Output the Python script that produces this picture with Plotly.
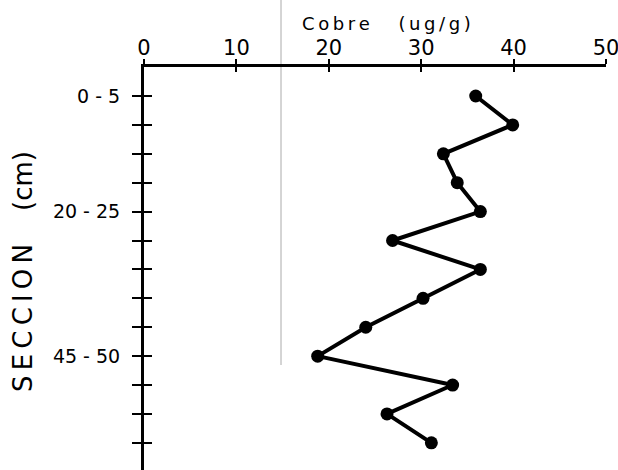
import plotly.graph_objects as go

# Data
section_top = [0, 5, 10, 15, 20, 25, 30, 35, 40, 45, 50, 55, 60]
section_labels = ["0 - 5", "", "", "", "20 - 25", "", "", "", "", "45 - 50", "", "", ""]
cobre = [35.9, 39.9, 32.4, 33.9, 36.4, 26.9, 36.4, 30.2, 24.0, 18.8, 33.4, 26.3, 31.1]
x_ticks = [0, 10, 20, 30, 40, 50]
x_ticktext = ["0", "10", "20", "30", "40", "50"]

depth_mid = [s + 2.5 for s in section_top]

FONT = "DejaVu Sans"
TS = "\u2009"  # thin space for letter spacing

fig = go.Figure()
fig.add_trace(go.Scatter(
    x=cobre, y=depth_mid, mode="lines+markers",
    line=dict(color="black", width=4),
    marker=dict(color="black", size=13),
    showlegend=False, hoverinfo="skip",
))
# invisible companion trace so the overlay axes (inner half of the crossing ticks) exist
fig.add_trace(go.Scatter(
    x=cobre, y=depth_mid, mode="markers", xaxis="x2", yaxis="y2",
    marker=dict(opacity=0), showlegend=False, hoverinfo="skip",
))

yrange = [67.2, -2.52]
xrange_ = [0, 50]

x_title = TS.join("Cobre") + "     " + TS.join("(ug/g)")
y_title = TS.join("SECCION") + "    " + "(cm)"

fig.update_layout(
    width=618, height=470,
    margin=dict(l=144, r=12, t=67, b=0),
    paper_bgcolor="white", plot_bgcolor="white",
    font=dict(family=FONT, color="black"),
    xaxis=dict(
        side="top", range=xrange_, tickmode="array", tickvals=x_ticks, ticktext=x_ticktext,
        ticks="outside", ticklen=5, tickwidth=2, tickcolor="black",
        showline=True, linewidth=3, linecolor="black",
        showgrid=False, zeroline=False, tickfont=dict(size=21, family=FONT),
        ticklabelstandoff=-4, ticklabeloverflow="allow",
    ),
    xaxis2=dict(
        overlaying="x", side="top", anchor="y2", range=xrange_, tickmode="array", tickvals=x_ticks,
        ticks="inside", ticklen=5, tickwidth=2, tickcolor="black",
        showticklabels=False, showline=False, showgrid=False, zeroline=False,
    ),
    yaxis=dict(
        range=yrange, tickmode="array", tickvals=depth_mid, ticktext=section_labels,
        ticks="outside", ticklen=9, tickwidth=2, tickcolor="black",
        showline=True, linewidth=3, linecolor="black",
        showgrid=False, zeroline=False, tickfont=dict(size=19, family=FONT),
        ticklabelstandoff=8, ticklabeloverflow="allow",
    ),
    yaxis2=dict(
        overlaying="y", side="left", anchor="x2", range=yrange, tickmode="array", tickvals=depth_mid,
        ticks="inside", ticklen=8, tickwidth=2, tickcolor="black",
        showticklabels=False, showline=False, showgrid=False, zeroline=False,
    ),
    annotations=[
        dict(text=x_title, xref="paper", yref="paper",
             x=(386 - 144) / 462, y=1 + (67 - 23) / 403, xanchor="center", yanchor="middle",
             showarrow=False, font=dict(size=18, family=FONT)),
        dict(text=y_title, xref="paper", yref="paper",
             x=(23 - 144) / 462, y=1 - (272 - 67) / 403, xanchor="center", yanchor="middle",
             textangle=-90, showarrow=False, font=dict(size=26, family=FONT)),
    ],
    shapes=[
        dict(type="line", xref="paper", yref="paper",
             x0=(281 - 144) / 462, x1=(281 - 144) / 462, y0=1 - (365 - 67) / 403, y1=1 + 67 / 403,
             line=dict(color="#aaaaaa", width=1), layer="below"),
    ],
)

fig.write_html("out.html")
